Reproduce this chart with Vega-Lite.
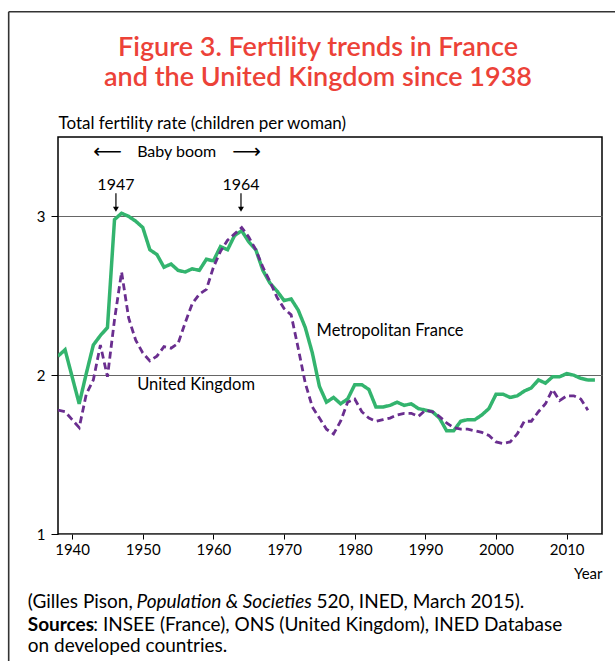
{
  "$schema": "https://vega.github.io/schema/vega-lite/v6.json",
  "width": 544,
  "height": 397,
  "autosize": "none",
  "padding": {"left": 58, "top": 137, "right": 13, "bottom": 127},
  "background": "white",
  "config": {
    "font": "Lato",
    "view": {"stroke": "black", "strokeWidth": 1.5},
    "axis": {"labelFont": "Lato", "titleFont": "Lato", "labelColor": "black", "titleColor": "black"}
  },
  "title": {
    "text": ["Figure 3. Fertility trends in France", "and the United Kingdom since 1938"],
    "font": "Lato",
    "fontSize": 27,
    "fontWeight": 600,
    "color": "#ec4238",
    "anchor": "middle",
    "frame": "group",
    "baseline": "bottom",
    "dx": -12,
    "lineHeight": 30,
    "offset": -108
  },
  "datasets": {
    "tfr": [
      {"year": 1938, "country": "Metropolitan France", "tfr": 2.12},
      {"year": 1939, "country": "Metropolitan France", "tfr": 2.16},
      {"year": 1940, "country": "Metropolitan France", "tfr": 1.99},
      {"year": 1941, "country": "Metropolitan France", "tfr": 1.82},
      {"year": 1942, "country": "Metropolitan France", "tfr": 2.01},
      {"year": 1943, "country": "Metropolitan France", "tfr": 2.19},
      {"year": 1944, "country": "Metropolitan France", "tfr": 2.25},
      {"year": 1945, "country": "Metropolitan France", "tfr": 2.30},
      {"year": 1946, "country": "Metropolitan France", "tfr": 2.98},
      {"year": 1947, "country": "Metropolitan France", "tfr": 3.02},
      {"year": 1948, "country": "Metropolitan France", "tfr": 3.00},
      {"year": 1949, "country": "Metropolitan France", "tfr": 2.97},
      {"year": 1950, "country": "Metropolitan France", "tfr": 2.93},
      {"year": 1951, "country": "Metropolitan France", "tfr": 2.79},
      {"year": 1952, "country": "Metropolitan France", "tfr": 2.76},
      {"year": 1953, "country": "Metropolitan France", "tfr": 2.68},
      {"year": 1954, "country": "Metropolitan France", "tfr": 2.70},
      {"year": 1955, "country": "Metropolitan France", "tfr": 2.66},
      {"year": 1956, "country": "Metropolitan France", "tfr": 2.65},
      {"year": 1957, "country": "Metropolitan France", "tfr": 2.67},
      {"year": 1958, "country": "Metropolitan France", "tfr": 2.66},
      {"year": 1959, "country": "Metropolitan France", "tfr": 2.73},
      {"year": 1960, "country": "Metropolitan France", "tfr": 2.72},
      {"year": 1961, "country": "Metropolitan France", "tfr": 2.81},
      {"year": 1962, "country": "Metropolitan France", "tfr": 2.79},
      {"year": 1963, "country": "Metropolitan France", "tfr": 2.88},
      {"year": 1964, "country": "Metropolitan France", "tfr": 2.91},
      {"year": 1965, "country": "Metropolitan France", "tfr": 2.84},
      {"year": 1966, "country": "Metropolitan France", "tfr": 2.79},
      {"year": 1967, "country": "Metropolitan France", "tfr": 2.66},
      {"year": 1968, "country": "Metropolitan France", "tfr": 2.58},
      {"year": 1969, "country": "Metropolitan France", "tfr": 2.53},
      {"year": 1970, "country": "Metropolitan France", "tfr": 2.47},
      {"year": 1971, "country": "Metropolitan France", "tfr": 2.48},
      {"year": 1972, "country": "Metropolitan France", "tfr": 2.41},
      {"year": 1973, "country": "Metropolitan France", "tfr": 2.30},
      {"year": 1974, "country": "Metropolitan France", "tfr": 2.14},
      {"year": 1975, "country": "Metropolitan France", "tfr": 1.93},
      {"year": 1976, "country": "Metropolitan France", "tfr": 1.83},
      {"year": 1977, "country": "Metropolitan France", "tfr": 1.86},
      {"year": 1978, "country": "Metropolitan France", "tfr": 1.82},
      {"year": 1979, "country": "Metropolitan France", "tfr": 1.85},
      {"year": 1980, "country": "Metropolitan France", "tfr": 1.94},
      {"year": 1981, "country": "Metropolitan France", "tfr": 1.94},
      {"year": 1982, "country": "Metropolitan France", "tfr": 1.91},
      {"year": 1983, "country": "Metropolitan France", "tfr": 1.80},
      {"year": 1984, "country": "Metropolitan France", "tfr": 1.80},
      {"year": 1985, "country": "Metropolitan France", "tfr": 1.81},
      {"year": 1986, "country": "Metropolitan France", "tfr": 1.83},
      {"year": 1987, "country": "Metropolitan France", "tfr": 1.81},
      {"year": 1988, "country": "Metropolitan France", "tfr": 1.82},
      {"year": 1989, "country": "Metropolitan France", "tfr": 1.79},
      {"year": 1990, "country": "Metropolitan France", "tfr": 1.78},
      {"year": 1991, "country": "Metropolitan France", "tfr": 1.77},
      {"year": 1992, "country": "Metropolitan France", "tfr": 1.73},
      {"year": 1993, "country": "Metropolitan France", "tfr": 1.65},
      {"year": 1994, "country": "Metropolitan France", "tfr": 1.65},
      {"year": 1995, "country": "Metropolitan France", "tfr": 1.71},
      {"year": 1996, "country": "Metropolitan France", "tfr": 1.72},
      {"year": 1997, "country": "Metropolitan France", "tfr": 1.72},
      {"year": 1998, "country": "Metropolitan France", "tfr": 1.75},
      {"year": 1999, "country": "Metropolitan France", "tfr": 1.79},
      {"year": 2000, "country": "Metropolitan France", "tfr": 1.88},
      {"year": 2001, "country": "Metropolitan France", "tfr": 1.88},
      {"year": 2002, "country": "Metropolitan France", "tfr": 1.86},
      {"year": 2003, "country": "Metropolitan France", "tfr": 1.87},
      {"year": 2004, "country": "Metropolitan France", "tfr": 1.90},
      {"year": 2005, "country": "Metropolitan France", "tfr": 1.92},
      {"year": 2006, "country": "Metropolitan France", "tfr": 1.97},
      {"year": 2007, "country": "Metropolitan France", "tfr": 1.95},
      {"year": 2008, "country": "Metropolitan France", "tfr": 1.99},
      {"year": 2009, "country": "Metropolitan France", "tfr": 1.99},
      {"year": 2010, "country": "Metropolitan France", "tfr": 2.01},
      {"year": 2011, "country": "Metropolitan France", "tfr": 2.00},
      {"year": 2012, "country": "Metropolitan France", "tfr": 1.98},
      {"year": 2013, "country": "Metropolitan France", "tfr": 1.97},
      {"year": 2014, "country": "Metropolitan France", "tfr": 1.97},
      {"year": 1938, "country": "United Kingdom", "tfr": 1.78},
      {"year": 1939, "country": "United Kingdom", "tfr": 1.77},
      {"year": 1940, "country": "United Kingdom", "tfr": 1.72},
      {"year": 1941, "country": "United Kingdom", "tfr": 1.67},
      {"year": 1942, "country": "United Kingdom", "tfr": 1.88},
      {"year": 1943, "country": "United Kingdom", "tfr": 1.97},
      {"year": 1944, "country": "United Kingdom", "tfr": 2.19},
      {"year": 1945, "country": "United Kingdom", "tfr": 1.99},
      {"year": 1946, "country": "United Kingdom", "tfr": 2.35},
      {"year": 1947, "country": "United Kingdom", "tfr": 2.65},
      {"year": 1948, "country": "United Kingdom", "tfr": 2.36},
      {"year": 1949, "country": "United Kingdom", "tfr": 2.22},
      {"year": 1950, "country": "United Kingdom", "tfr": 2.14},
      {"year": 1951, "country": "United Kingdom", "tfr": 2.09},
      {"year": 1952, "country": "United Kingdom", "tfr": 2.12},
      {"year": 1953, "country": "United Kingdom", "tfr": 2.18},
      {"year": 1954, "country": "United Kingdom", "tfr": 2.17},
      {"year": 1955, "country": "United Kingdom", "tfr": 2.20},
      {"year": 1956, "country": "United Kingdom", "tfr": 2.33},
      {"year": 1957, "country": "United Kingdom", "tfr": 2.45},
      {"year": 1958, "country": "United Kingdom", "tfr": 2.51},
      {"year": 1959, "country": "United Kingdom", "tfr": 2.54},
      {"year": 1960, "country": "United Kingdom", "tfr": 2.68},
      {"year": 1961, "country": "United Kingdom", "tfr": 2.78},
      {"year": 1962, "country": "United Kingdom", "tfr": 2.85},
      {"year": 1963, "country": "United Kingdom", "tfr": 2.89},
      {"year": 1964, "country": "United Kingdom", "tfr": 2.93},
      {"year": 1965, "country": "United Kingdom", "tfr": 2.87},
      {"year": 1966, "country": "United Kingdom", "tfr": 2.79},
      {"year": 1967, "country": "United Kingdom", "tfr": 2.68},
      {"year": 1968, "country": "United Kingdom", "tfr": 2.59},
      {"year": 1969, "country": "United Kingdom", "tfr": 2.49},
      {"year": 1970, "country": "United Kingdom", "tfr": 2.42},
      {"year": 1971, "country": "United Kingdom", "tfr": 2.38},
      {"year": 1972, "country": "United Kingdom", "tfr": 2.17},
      {"year": 1973, "country": "United Kingdom", "tfr": 1.95},
      {"year": 1974, "country": "United Kingdom", "tfr": 1.80},
      {"year": 1975, "country": "United Kingdom", "tfr": 1.73},
      {"year": 1976, "country": "United Kingdom", "tfr": 1.66},
      {"year": 1977, "country": "United Kingdom", "tfr": 1.63},
      {"year": 1978, "country": "United Kingdom", "tfr": 1.71},
      {"year": 1979, "country": "United Kingdom", "tfr": 1.83},
      {"year": 1980, "country": "United Kingdom", "tfr": 1.85},
      {"year": 1981, "country": "United Kingdom", "tfr": 1.77},
      {"year": 1982, "country": "United Kingdom", "tfr": 1.73},
      {"year": 1983, "country": "United Kingdom", "tfr": 1.71},
      {"year": 1984, "country": "United Kingdom", "tfr": 1.72},
      {"year": 1985, "country": "United Kingdom", "tfr": 1.73},
      {"year": 1986, "country": "United Kingdom", "tfr": 1.75},
      {"year": 1987, "country": "United Kingdom", "tfr": 1.76},
      {"year": 1988, "country": "United Kingdom", "tfr": 1.76},
      {"year": 1989, "country": "United Kingdom", "tfr": 1.74},
      {"year": 1990, "country": "United Kingdom", "tfr": 1.78},
      {"year": 1991, "country": "United Kingdom", "tfr": 1.77},
      {"year": 1992, "country": "United Kingdom", "tfr": 1.74},
      {"year": 1993, "country": "United Kingdom", "tfr": 1.70},
      {"year": 1994, "country": "United Kingdom", "tfr": 1.67},
      {"year": 1995, "country": "United Kingdom", "tfr": 1.66},
      {"year": 1996, "country": "United Kingdom", "tfr": 1.66},
      {"year": 1997, "country": "United Kingdom", "tfr": 1.65},
      {"year": 1998, "country": "United Kingdom", "tfr": 1.64},
      {"year": 1999, "country": "United Kingdom", "tfr": 1.62},
      {"year": 2000, "country": "United Kingdom", "tfr": 1.58},
      {"year": 2001, "country": "United Kingdom", "tfr": 1.57},
      {"year": 2002, "country": "United Kingdom", "tfr": 1.58},
      {"year": 2003, "country": "United Kingdom", "tfr": 1.63},
      {"year": 2004, "country": "United Kingdom", "tfr": 1.71},
      {"year": 2005, "country": "United Kingdom", "tfr": 1.71},
      {"year": 2006, "country": "United Kingdom", "tfr": 1.77},
      {"year": 2007, "country": "United Kingdom", "tfr": 1.82},
      {"year": 2008, "country": "United Kingdom", "tfr": 1.91},
      {"year": 2009, "country": "United Kingdom", "tfr": 1.84},
      {"year": 2010, "country": "United Kingdom", "tfr": 1.87},
      {"year": 2011, "country": "United Kingdom", "tfr": 1.87},
      {"year": 2012, "country": "United Kingdom", "tfr": 1.85},
      {"year": 2013, "country": "United Kingdom", "tfr": 1.78}
    ],
    "seriesLabels": [
      {"year": 1974.6, "tfr": 2.28, "label": "Metropolitan France"},
      {"year": 1949.2, "tfr": 1.94, "label": "United Kingdom"}
    ],
    "centerLabels": [
      {"year": 1954.8, "tfr": 3.405, "label": "Baby boom"},
      {"year": 1946.2, "tfr": 3.2, "label": "1947"},
      {"year": 1963.9, "tfr": 3.2, "label": "1964"}
    ],
    "arrowsH": [
      {"year": 1945.0, "tfr": 3.405, "label": "⟵"},
      {"year": 1964.7, "tfr": 3.405, "label": "⟶"}
    ],
    "arrowsV": [
      {"year": 1946.2, "top": 3.145, "bottom": 3.045},
      {"year": 1963.9, "top": 3.145, "bottom": 3.045}
    ],
    "frame": [
      {"year": 1931.02, "year2": 1931.02, "tfr": 4.289, "tfr2": 0.1},
      {"year": 1931.02, "year2": 2019, "tfr": 4.289, "tfr2": 4.289}
    ],
    "footNormal": [
      {"year": 1933.72, "tfr": 0.572, "label": "(Gilles Pison, "},
      {"year": 1974.6, "tfr": 0.572, "label": "520, INED, March 2015)."},
      {"year": 1943.0, "tfr": 0.428, "label": ": INSEE (France), ONS (United Kingdom), INED Database"},
      {"year": 1933.72, "tfr": 0.296, "label": "on developed countries."}
    ],
    "footItalic": [
      {"year": 1949.1, "tfr": 0.572, "label": "Population & Societies"}
    ],
    "footBold": [
      {"year": 1933.72, "tfr": 0.428, "label": "Sources"}
    ]
  },
  "layer": [
    {
      "data": {"name": "tfr"},
      "mark": {"type": "line", "clip": true},
      "encoding": {
        "x": {
          "field": "year", "type": "quantitative",
          "scale": {"domain": [1938, 2015], "nice": false, "zero": false},
          "axis": {
            "values": [1940, 1950, 1960, 1970, 1980, 1990, 2000, 2010],
            "format": "d", "grid": false, "domain": false,
            "tickColor": "black", "tickSize": 5, "labelPadding": 3,
            "labelFontSize": 15, "title": "Year", "titleFontSize": 15,
            "titleFontWeight": "normal", "titleAnchor": "end", "titleAlign": "right",
            "titleX": 544, "titleY": 39, "titleBaseline": "middle"
          }
        },
        "y": {
          "field": "tfr", "type": "quantitative",
          "scale": {"domain": [1, 3.5], "nice": false, "zero": false},
          "axis": {
            "values": [1, 2, 3], "format": "d", "grid": true, "gridColor": "#666",
            "gridWidth": 1.2, "gridOpacity": 1, "domain": false,
            "tickColor": "black", "tickSize": 7, "labelPadding": 6, "labelFontSize": 15,
            "title": "Total fertility rate (children per woman)",
            "titleAngle": 0, "titleAlign": "left", "titleBaseline": "middle",
            "titleX": 0, "titleY": -14, "titleFontSize": 17, "titleFontWeight": "normal"
          }
        },
        "color": {
          "field": "country", "type": "nominal",
          "scale": {"domain": ["Metropolitan France", "United Kingdom"], "range": ["#33b46e", "#6a2e8f"]},
          "legend": null
        },
        "strokeDash": {
          "field": "country", "type": "nominal",
          "scale": {"domain": ["Metropolitan France", "United Kingdom"], "range": [[1, 0], [7, 4]]},
          "legend": null
        },
        "strokeWidth": {
          "field": "country", "type": "nominal",
          "scale": {"domain": ["Metropolitan France", "United Kingdom"], "range": [3.5, 2.8]},
          "legend": null
        }
      }
    },
    {
      "data": {"name": "frame"},
      "mark": {"type": "rule", "color": "#333", "strokeWidth": 1.6},
      "encoding": {
        "x": {"field": "year", "type": "quantitative"},
        "x2": {"field": "year2"},
        "y": {"field": "tfr", "type": "quantitative"},
        "y2": {"field": "tfr2"}
      }
    },
    {
      "data": {"name": "seriesLabels"},
      "mark": {"type": "text", "align": "left", "baseline": "middle", "fontSize": 16.5, "color": "black"},
      "encoding": {
        "x": {"field": "year", "type": "quantitative"},
        "y": {"field": "tfr", "type": "quantitative"},
        "text": {"field": "label"}
      }
    },
    {
      "data": {"name": "centerLabels"},
      "mark": {"type": "text", "align": "center", "baseline": "middle", "fontSize": 16, "color": "black"},
      "encoding": {
        "x": {"field": "year", "type": "quantitative"},
        "y": {"field": "tfr", "type": "quantitative"},
        "text": {"field": "label"}
      }
    },
    {
      "data": {"name": "arrowsH"},
      "mark": {"type": "text", "align": "center", "baseline": "middle", "fontSize": 20, "font": "DejaVu Sans", "color": "black"},
      "encoding": {
        "x": {"field": "year", "type": "quantitative"},
        "y": {"field": "tfr", "type": "quantitative"},
        "text": {"field": "label"}
      }
    },
    {
      "data": {"name": "arrowsV"},
      "mark": {"type": "rule", "color": "black", "strokeWidth": 1.2},
      "encoding": {
        "x": {"field": "year", "type": "quantitative"},
        "y": {"field": "top", "type": "quantitative"},
        "y2": {"field": "bottom"}
      }
    },
    {
      "data": {"name": "arrowsV"},
      "mark": {"type": "point", "shape": "triangle-down", "filled": true, "color": "black", "size": 35, "opacity": 1},
      "encoding": {
        "x": {"field": "year", "type": "quantitative"},
        "y": {"field": "bottom", "type": "quantitative"}
      }
    },
    {
      "data": {"name": "footNormal"},
      "mark": {"type": "text", "align": "left", "baseline": "middle", "fontSize": 19, "color": "black"},
      "encoding": {
        "x": {"field": "year", "type": "quantitative"},
        "y": {"field": "tfr", "type": "quantitative"},
        "text": {"field": "label"}
      }
    },
    {
      "data": {"name": "footItalic"},
      "mark": {"type": "text", "align": "left", "baseline": "middle", "fontSize": 19, "fontStyle": "italic", "color": "black"},
      "encoding": {
        "x": {"field": "year", "type": "quantitative"},
        "y": {"field": "tfr", "type": "quantitative"},
        "text": {"field": "label"}
      }
    },
    {
      "data": {"name": "footBold"},
      "mark": {"type": "text", "align": "left", "baseline": "middle", "fontSize": 19, "fontWeight": "bold", "color": "black"},
      "encoding": {
        "x": {"field": "year", "type": "quantitative"},
        "y": {"field": "tfr", "type": "quantitative"},
        "text": {"field": "label"}
      }
    }
  ]
}
